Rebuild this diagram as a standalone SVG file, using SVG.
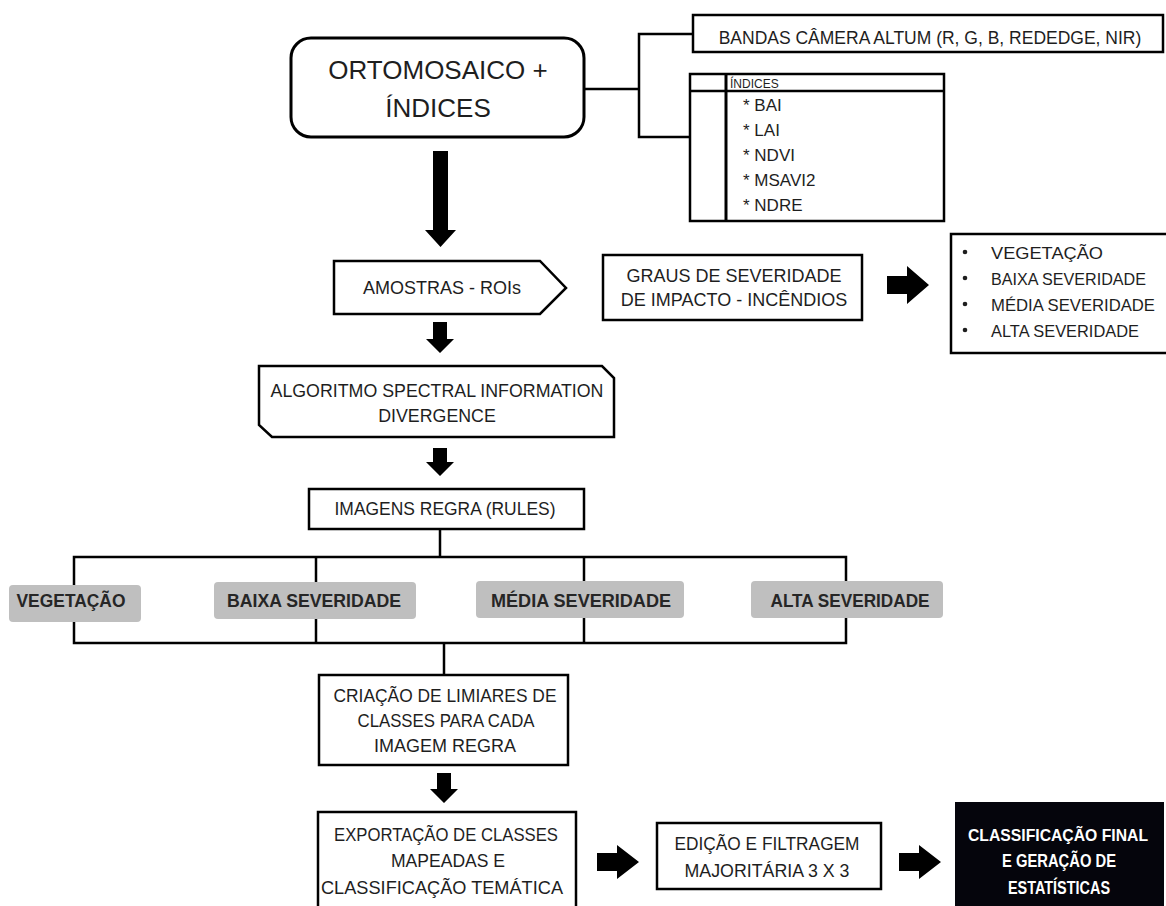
<svg xmlns="http://www.w3.org/2000/svg" width="1166" height="906" viewBox="0 0 1166 906">
<style>
.box{fill:#fff;stroke:#000;stroke-width:2.5}
.ln{fill:none;stroke:#000;stroke-width:2.5}
.arr{fill:#000}
.t{font-family:"Liberation Sans",Arial,sans-serif;fill:#1e1e1e;text-anchor:middle}
.tl{font-family:"Liberation Sans",Arial,sans-serif;fill:#1e1e1e}
.lab{fill:#bfbfbf}
.lt{font-family:"Liberation Sans",Arial,sans-serif;font-weight:bold;fill:#262626;text-anchor:middle;font-size:18px}
.wt{font-family:"Liberation Sans",Arial,sans-serif;font-weight:bold;fill:#fff;text-anchor:middle}
</style>
<rect width="1166" height="906" fill="#fff"/>
<g id="connectors">
<polyline class="ln" points="584,89 639,89"/>
<polyline class="ln" points="693,34 639,34 639,137 690,137"/>
<polyline class="ln" points="440,529 440,557"/>
<polyline class="ln" points="74,585 74,557 846,557 846,581"/>
<line class="ln" x1="316" y1="557" x2="316" y2="582"/>
<line class="ln" x1="584" y1="557" x2="584" y2="581"/>
<polyline class="ln" points="74,622 74,643 846,643 846,618"/>
<line class="ln" x1="316" y1="619" x2="316" y2="643"/>
<line class="ln" x1="584" y1="618" x2="584" y2="643"/>
<line class="ln" x1="444" y1="643" x2="444" y2="675"/>
<polygon class="arr" points="433,151 448,151 448,230 456,230 440.5,247 425,230 433,230"/>
<polygon class="arr" points="433,322 447,322 447,339 454,339 440,353 426,339 433,339"/>
<polygon class="arr" points="433,448 447,448 447,462 454,462 440,476 426,462 433,462"/>
<polygon class="arr" points="437,773 451,773 451,789 458,789 444,803 430,789 437,789"/>
<polygon class="arr" points="887,276 907,276 907,266 929,285 907,304 907,294 887,294"/>
<polygon class="arr" points="597,853 617,853 617,845 639,862 617,879 617,871 597,871"/>
<polygon class="arr" points="899,853 919,853 919,845 941,862 919,879 919,871 899,871"/>
</g>
<g id="ortomosaico">
<rect x="291" y="38" width="293" height="99" rx="20" ry="20" fill="#fff" stroke="#000" stroke-width="3"/>
<text class="t" x="438" y="79" font-size="26">ORTOMOSAICO +</text>
<text class="t" x="438" y="117" font-size="26">ÍNDICES</text>
</g>
<g id="bandas">
<rect class="box" x="693" y="15" width="470" height="37"/>
<text class="t" x="930" y="44" font-size="17.5">BANDAS CÂMERA ALTUM (R, G, B, REDEDGE, NIR)</text>
</g>
<g id="indices">
<rect class="box" x="690" y="74" width="254" height="147"/>
<line class="ln" x1="690" y1="91" x2="944" y2="91"/>
<line x1="726" y1="74" x2="726" y2="221" stroke="#000" stroke-width="3"/>
<text class="tl" x="730" y="88" font-size="12">ÍNDICES</text>
<text class="tl" x="743" y="111" font-size="17">* BAI</text>
<text class="tl" x="743" y="136" font-size="17">* LAI</text>
<text class="tl" x="743" y="161" font-size="17">* NDVI</text>
<text class="tl" x="743" y="186" font-size="17">* MSAVI2</text>
<text class="tl" x="743" y="211" font-size="17">* NDRE</text>
</g>
<g id="amostras">
<polygon class="box" points="334,261 540,261 566,288 540,314 334,314"/>
<text class="t" x="442" y="294" font-size="18">AMOSTRAS - ROIs</text>
</g>
<g id="graus">
<rect class="box" x="603" y="255" width="259" height="65"/>
<text class="t" x="734" y="282" font-size="18">GRAUS DE SEVERIDADE</text>
<text class="t" x="734" y="306" font-size="18">DE IMPACTO - INCÊNDIOS</text>
</g>
<g id="classes-list">
<rect class="box" x="951" y="234" width="220" height="119"/>
<circle cx="965" cy="252" r="2.3" fill="#1e1e1e"/>
<circle cx="965" cy="278" r="2.3" fill="#1e1e1e"/>
<circle cx="965" cy="304" r="2.3" fill="#1e1e1e"/>
<circle cx="965" cy="330" r="2.3" fill="#1e1e1e"/>
<text class="tl" x="991" y="259" font-size="17" textLength="112" lengthAdjust="spacingAndGlyphs">VEGETAÇÃO</text>
<text class="tl" x="991" y="285" font-size="17" textLength="155" lengthAdjust="spacingAndGlyphs">BAIXA SEVERIDADE</text>
<text class="tl" x="991" y="311" font-size="17" textLength="164" lengthAdjust="spacingAndGlyphs">MÉDIA SEVERIDADE</text>
<text class="tl" x="991" y="337" font-size="17" textLength="148" lengthAdjust="spacingAndGlyphs">ALTA SEVERIDADE</text>
</g>
<g id="algoritmo">
<polygon class="box" points="259,366 602,366 614,378 614,437 272,437 259,425"/>
<text class="t" x="437" y="397" font-size="17.8">ALGORITMO SPECTRAL INFORMATION</text>
<text class="t" x="437" y="422" font-size="17.8">DIVERGENCE</text>
</g>
<g id="imagens-regra">
<rect class="box" x="309" y="489" width="275" height="40"/>
<text class="t" x="445" y="515" font-size="18" textLength="221" lengthAdjust="spacingAndGlyphs">IMAGENS REGRA (RULES)</text>
</g>
<g id="vegetacao">
<rect class="lab" x="9" y="585" width="132" height="37" rx="4"/>
<text class="lt" x="71" y="607" textLength="109" lengthAdjust="spacingAndGlyphs">VEGETAÇÃO</text>
</g>
<g id="baixa">
<rect class="lab" x="214" y="582" width="202" height="37" rx="4"/>
<text class="lt" x="314" y="607" textLength="174" lengthAdjust="spacingAndGlyphs">BAIXA SEVERIDADE</text>
</g>
<g id="media">
<rect class="lab" x="476" y="581" width="208" height="37" rx="4"/>
<text class="lt" x="581" y="607" textLength="180" lengthAdjust="spacingAndGlyphs">MÉDIA SEVERIDADE</text>
</g>
<g id="alta">
<rect class="lab" x="751" y="581" width="192" height="37" rx="4"/>
<text class="lt" x="850" y="607" textLength="159" lengthAdjust="spacingAndGlyphs">ALTA SEVERIDADE</text>
</g>
<g id="criacao">
<rect class="box" x="319" y="675" width="249" height="90"/>
<text class="t" x="445" y="702" font-size="19" textLength="223" lengthAdjust="spacingAndGlyphs">CRIAÇÃO DE LIMIARES DE</text>
<text class="t" x="446" y="727" font-size="19" textLength="177" lengthAdjust="spacingAndGlyphs">CLASSES PARA CADA</text>
<text class="t" x="445" y="752" font-size="19" textLength="142" lengthAdjust="spacingAndGlyphs">IMAGEM REGRA</text>
</g>
<g id="exportacao">
<rect class="box" x="318" y="812" width="258" height="100"/>
<text class="t" x="446" y="841" font-size="19" textLength="224" lengthAdjust="spacingAndGlyphs">EXPORTAÇÃO DE CLASSES</text>
<text class="t" x="448" y="867" font-size="19" textLength="114" lengthAdjust="spacingAndGlyphs">MAPEADAS E</text>
<text class="t" x="442" y="894" font-size="19" textLength="242" lengthAdjust="spacingAndGlyphs">CLASSIFICAÇÃO TEMÁTICA</text>
</g>
<g id="edicao">
<rect class="box" x="657" y="823" width="224" height="66"/>
<text class="t" x="767" y="850" font-size="19" textLength="185" lengthAdjust="spacingAndGlyphs">EDIÇÃO E FILTRAGEM</text>
<text class="t" x="767" y="877" font-size="19" textLength="165" lengthAdjust="spacingAndGlyphs">MAJORITÁRIA 3 X 3</text>
</g>
<g id="classificacao-final">
<rect x="955" y="802" width="209" height="104" fill="#05050c"/>
<text class="wt" x="1058" y="841" font-size="17" textLength="180" lengthAdjust="spacingAndGlyphs">CLASSIFICAÇÃO FINAL</text>
<text class="wt" x="1059" y="867" font-size="18" textLength="114" lengthAdjust="spacingAndGlyphs">E GERAÇÃO DE</text>
<text class="wt" x="1059" y="894" font-size="18" textLength="102" lengthAdjust="spacingAndGlyphs">ESTATÍSTICAS</text>
</g>
</svg>
